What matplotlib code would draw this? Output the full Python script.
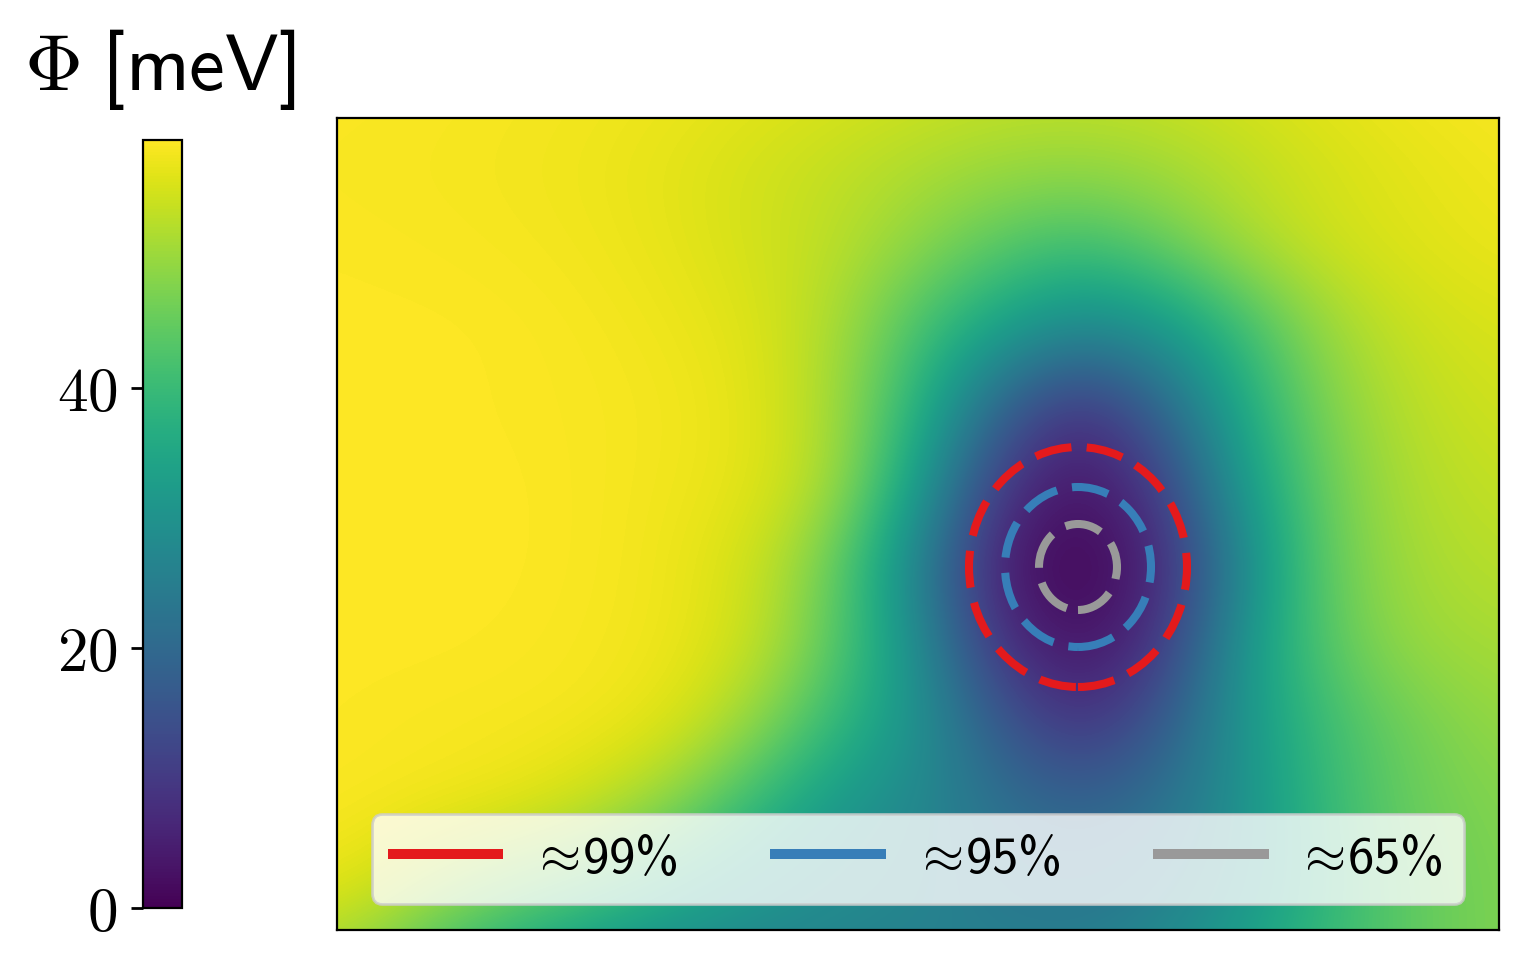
import numpy as np
import matplotlib
matplotlib.use('Agg')
import matplotlib.pyplot as plt
from matplotlib.patches import Ellipse
from matplotlib.lines import Line2D

plt.rcParams['mathtext.fontset'] = 'cm'

# ---- data -------------------------------------------------------------
# grid node coordinates (arbitrary length units, axes span 0..1162 x 0..812)
x_nodes = [-59, 21, 101, 181, 261, 341, 421, 501, 581, 661, 741, 821, 901, 981, 1061, 1141, 1221]
y_nodes = [843, 763, 683, 603, 523, 443, 363, 283, 203, 123, 43, -37]   # top -> bottom

# potential Phi [meV] at the grid nodes (rows top -> bottom)
phi_rows = [
    [58.9, 58.8, 58.6, 58.3, 58.0, 57.5, 56.8, 56.0, 55.0, 54.3, 54.0, 54.5, 55.5, 56.8, 57.8, 58.5, 58.9],
    [58.6, 58.5, 58.3, 58.0, 57.5, 56.5, 55.0, 53.5, 52.0, 50.5, 50.0, 51.0, 53.0, 55.0, 56.5, 57.5, 58.2],
    [58.9, 58.8, 58.6, 58.3, 57.8, 56.8, 55.0, 53.0, 49.0, 44.0, 41.0, 45.0, 51.0, 54.5, 56.0, 57.0, 57.5],
    [59.0, 59.0, 59.0, 58.8, 58.3, 57.5, 56.0, 51.5, 42.0, 34.0, 28.0, 31.0, 40.0, 49.5, 54.0, 55.5, 56.0],
    [59.0, 59.0, 59.0, 58.8, 58.5, 58.0, 56.5, 51.0, 38.0, 19.0, 7.5, 18.0, 35.0, 47.0, 52.5, 54.5, 55.0],
    [59.0, 59.0, 59.0, 59.0, 58.5, 57.8, 56.5, 51.0, 33.0, 9.5, 2.5, 9.5, 31.0, 45.0, 51.5, 53.5, 54.0],
    [59.0, 59.0, 59.0, 59.0, 58.5, 57.5, 54.5, 45.0, 25.5, 4.0, 0.0, 5.0, 26.0, 44.0, 50.5, 52.5, 53.0],
    [59.0, 59.0, 59.0, 58.8, 58.3, 57.5, 54.0, 44.0, 29.0, 8.5, 2.5, 8.5, 30.0, 43.0, 49.5, 51.0, 51.5],
    [59.0, 58.8, 58.5, 58.3, 58.0, 56.0, 49.0, 39.0, 30.0, 17.0, 8.5, 16.0, 30.0, 40.0, 45.5, 49.0, 50.0],
    [58.8, 58.5, 58.0, 57.0, 54.0, 48.0, 39.0, 31.0, 27.5, 22.0, 19.0, 22.0, 29.0, 39.0, 45.0, 47.5, 48.5],
    [57.5, 56.5, 51.0, 46.0, 42.0, 36.0, 31.0, 28.5, 27.0, 24.0, 22.5, 25.0, 30.0, 38.0, 44.0, 47.0, 48.0],
    [50.0, 48.0, 40.0, 34.0, 29.0, 26.7, 26.3, 25.7, 25.2, 26.0, 26.2, 28.7, 33.7, 39.8, 44.0, 47.0, 48.0],
]

# confidence-region outlines: centre and (width, height)
well_centre = (741, 363)
region_labels = [r'$\!\approx\!$99%', r'$\!\approx\!$95%', r'$\!\approx\!$65%']
region_widths = [218, 146, 78]
region_heights = [240, 160, 86]
region_colors = ['#e41a1c', '#377eb8', '#999999']

cbar_ticks = [0, 20, 40]
cbar_ticklabels = [r'$0$', r'$20$', r'$40$']
vmin, vmax = 0.0, 59.1

# ---- figure -----------------------------------------------------------
W, H = 1524, 971
fig = plt.figure(figsize=(W / 200, H / 200), dpi=200)
ax = fig.add_axes([337 / W, 1 - 930 / H, 1162 / W, 812 / H])
cax = fig.add_axes([143 / W, 1 - 908 / H, 39 / W, 768 / H])

phi = np.array(phi_rows)
dx = (x_nodes[1] - x_nodes[0]) / 2
dy = (y_nodes[0] - y_nodes[1]) / 2
im = ax.imshow(phi, cmap='viridis', vmin=vmin, vmax=vmax,
               extent=(x_nodes[0] - dx, x_nodes[-1] + dx, y_nodes[-1] - dy, y_nodes[0] + dy),
               origin='upper', interpolation='bicubic', aspect='auto')
ax.set_xlim(0, 1162)
ax.set_ylim(0, 812)
ax.set_xticks([])
ax.set_yticks([])

for w, h, c in zip(region_widths, region_heights, region_colors):
    ax.add_patch(Ellipse(well_centre, w, h, fill=False, edgecolor=c, lw=2.9,
                         linestyle=(0, (4.6, 1.9)), zorder=3))

handles = [Line2D([], [], color=c, lw=3.6) for c in region_colors]
ax.legend(handles, region_labels, loc='lower center', ncol=3,
          prop={'family': 'cmss10', 'size': 19},
          handlelength=2.0, handletextpad=0.75, columnspacing=1.85,
          framealpha=0.8, borderaxespad=0.5)

cb = fig.colorbar(im, cax=cax, ticks=cbar_ticks)
cax.yaxis.set_ticks_position('left')
cax.set_yticklabels(cbar_ticklabels, fontsize=22)
cax.tick_params(length=4.2, width=1, pad=5)

fig.text(160 / W, 1 - 90 / H, r'$\Phi\;$[meV]', fontsize=29, family='cmss10',
         ha='center', va='baseline')

fig.savefig('out.png', dpi=200)
